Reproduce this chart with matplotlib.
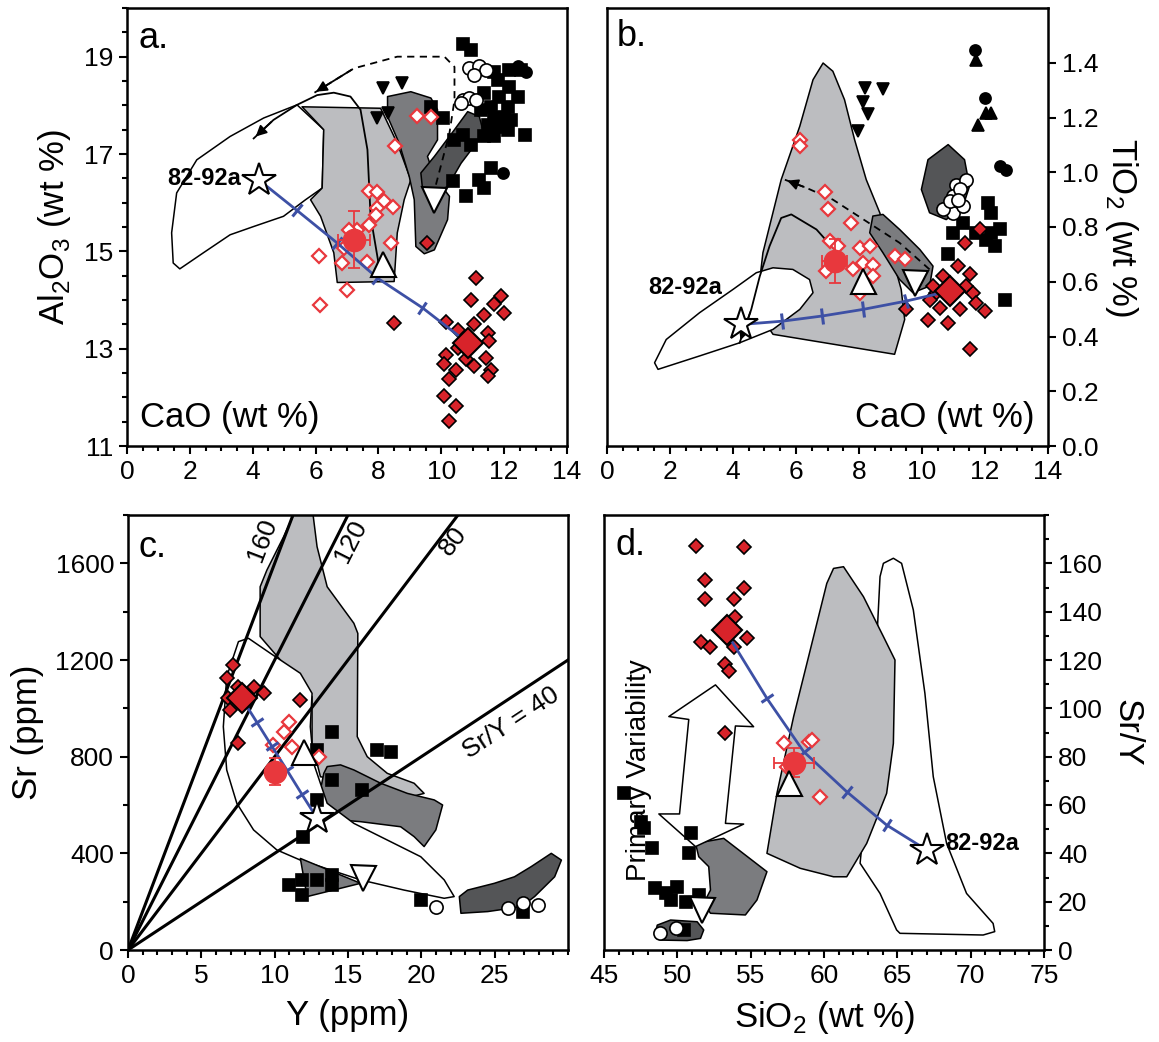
import numpy as np
import matplotlib
matplotlib.use('Agg')
import matplotlib.pyplot as plt
from matplotlib.patches import Polygon
from matplotlib.markers import MarkerStyle
from matplotlib.transforms import Affine2D
from matplotlib.ticker import MultipleLocator, FormatStrFormatter

plt.rcParams['font.family'] = ['Liberation Sans', 'DejaVu Sans']
plt.rcParams['mathtext.fontset'] = 'custom'
plt.rcParams['mathtext.rm'] = 'Liberation Sans'

LG = '#bcbdc0'
MG = '#7b7c7f'
DG = '#545557'
RED = '#e8383d'
RED_F = '#d8232a'
BLUE = '#3d50a5'

# ---------------- panel a : CaO vs Al2O3 ----------------
a_white = [(5.41, 18.01), (6.26, 17.50), (6.21, 16.30), (5.68, 16.06), (4.98, 15.72), (4.03, 15.51),
           (3.28, 15.34), (2.43, 14.97), (1.68, 14.64), (1.47, 14.76), (1.42, 15.38), (1.58, 16.20),
           (2.22, 16.88), (3.28, 17.36), (4.35, 17.74)]
a_lgray = [(5.57, 17.97), (8.07, 17.94), (8.60, 17.22), (9.03, 16.47), (8.82, 16.06), (8.60, 15.38),
           (8.50, 14.38), (6.69, 14.36), (6.58, 14.97), (6.16, 15.72), (5.84, 16.06), (6.21, 16.30),
           (6.26, 17.50)]
a_mgray = [(8.29, 18.18), (9.03, 18.28), (9.67, 18.15), (9.88, 17.91), (9.88, 17.29), (9.56, 16.95),
           (9.78, 16.54), (10.26, 16.13), (10.20, 15.65), (9.78, 15.03), (9.46, 14.95), (9.19, 15.10),
           (9.14, 16.06), (8.98, 16.54), (8.66, 17.22), (8.29, 17.77)]
a_dgray = [(10.84, 17.87), (11.21, 17.77), (11.32, 17.50), (11.11, 17.22), (10.63, 16.81), (10.20, 16.33),
           (9.83, 16.23), (9.40, 16.30), (9.35, 16.61), (9.78, 16.95), (10.42, 17.50)]
a_dash = [(9.83, 16.37), (10.26, 17.43), (10.42, 18.11), (10.42, 18.79), (10.10, 19.0), (8.60, 19.0),
          (7.22, 18.76), (5.94, 18.25)]
a_solid = [(8.02, 14.69), (7.75, 15.72), (7.65, 17.09), (7.43, 17.91), (7.11, 18.18), (6.58, 18.26),
           (6.05, 18.21), (5.41, 18.01), (4.66, 17.70), (4.03, 17.32)]

a_sq_x = [10.68, 10.95, 11.69, 12.17, 12.55, 11.80, 12.17, 12.44, 11.37, 11.85, 11.27, 11.59, 12.12, 11.69,
          12.01, 12.23, 11.48, 11.85, 12.12, 12.65, 11.37, 11.69, 10.42, 10.68, 10.95, 10.04, 9.67, 11.59,
          11.21, 11.37, 10.36, 10.79]
a_sq_y = [19.27, 19.14, 18.69, 18.73, 18.73, 18.52, 18.38, 18.18, 18.25, 18.18, 17.91, 17.97, 17.97, 17.74,
          17.77, 17.70, 17.60, 17.56, 17.50, 17.39, 17.36, 17.36, 17.29, 17.39, 17.19, 17.74, 17.97, 16.71,
          16.47, 16.30, 16.44, 16.13]
a_bc_x = [12.44, 12.70, 11.96]
a_bc_y = [18.80, 18.69, 16.61]
a_oc_x = [10.89, 11.21, 11.43, 11.05, 10.68, 10.89, 11.11, 10.63]
a_oc_y = [18.76, 18.80, 18.73, 18.62, 18.11, 18.15, 18.11, 18.04]
a_tri_x = [8.13, 8.76, 7.97, 8.29]
a_tri_y = [18.35, 18.45, 17.73, 17.84]
a_open_x = [9.22, 9.67, 8.52, 7.70, 7.97, 8.18, 8.45, 7.97, 7.91, 7.70, 7.33, 7.06, 6.90, 8.39, 6.10, 6.85,
            7.65, 7.01, 6.13]
a_open_y = [17.78, 17.76, 17.17, 16.25, 16.21, 16.03, 15.91, 15.89, 15.75, 15.55, 15.44, 15.44, 15.07, 15.17,
            14.90, 14.76, 14.79, 14.20, 13.89]
a_fill_x = [9.54, 8.50, 11.11, 10.93, 11.91, 10.15, 10.52, 11.37, 11.69, 12.01, 11.05, 11.48, 11.53, 10.52,
            10.15, 10.79, 11.43, 10.10, 10.47, 11.05, 11.59, 10.26, 11.48, 10.10, 10.47, 10.26]
a_fill_y = [15.18, 13.53, 14.45, 14.01, 14.08, 13.54, 13.39, 13.70, 13.91, 13.74, 13.50, 13.32, 13.15, 13.02,
            12.88, 12.78, 12.81, 12.68, 12.57, 12.64, 12.57, 12.37, 12.44, 12.03, 11.82, 11.51]
a_big = (10.84, 13.12)
a_circ = (7.22, 15.24)
a_circ_err = (0.5, 0.58)
a_up = (8.13, 14.73)
a_dn = (9.78, 16.06)
a_star = (4.19, 16.47)
a_mix_x = [4.19, 5.41, 6.69, 7.97, 9.40, 10.84]
a_mix_y = [16.47, 15.84, 15.17, 14.45, 13.84, 13.12]
a_yticks = [11, 13, 15, 17, 19]

# ---------------- panel b : CaO vs TiO2 ----------------
b_white = [(1.62, 0.280), (2.94, 0.329), (4.21, 0.377), (5.27, 0.426), (6.12, 0.499), (6.54, 0.560),
           (6.43, 0.608), (5.90, 0.645), (5.27, 0.651), (4.74, 0.633), (4.00, 0.572), (2.94, 0.487),
           (1.88, 0.389), (1.51, 0.304)]
b_lgray = [(6.86, 1.399), (7.17, 1.369), (7.54, 1.265), (7.86, 1.119), (8.23, 0.973), (8.66, 0.852),
           (9.34, 0.572), (9.45, 0.462), (9.13, 0.335), (5.27, 0.408), (4.74, 0.499), (4.95, 0.706),
           (5.53, 0.973), (6.12, 1.168), (6.54, 1.338)]
b_mgray = [(8.44, 0.840), (8.76, 0.846), (9.29, 0.791), (9.93, 0.718), (10.35, 0.657), (10.24, 0.584),
           (9.71, 0.560), (9.29, 0.608), (8.76, 0.706), (8.34, 0.779)]
b_dgray = [(10.83, 1.101), (11.35, 1.046), (11.51, 0.949), (11.30, 0.876), (10.77, 0.827), (10.24, 0.852),
           (9.98, 0.937), (10.19, 1.046)]
b_dash = [(10.24, 0.645), (9.29, 0.742), (8.23, 0.821), (7.17, 0.900), (6.33, 0.943), (5.64, 0.973)]
b_solid = [(7.17, 0.724), (6.65, 0.791), (5.85, 0.846), (5.53, 0.833), (5.16, 0.730), (4.85, 0.620),
           (4.58, 0.499), (4.21, 0.377)]

b_sq_x = [12.10, 12.20, 12.47, 10.98, 11.30, 11.72, 12.04, 12.31, 12.20, 10.83, 12.62]
b_sq_y = [0.888, 0.852, 0.791, 0.779, 0.815, 0.779, 0.754, 0.730, 0.779, 0.700, 0.535]
b_bc_x = [11.67, 11.99, 12.47, 12.68]
b_bc_y = [1.448, 1.271, 1.022, 1.010]
b_ut_x = [11.70, 12.04, 12.20, 11.78]
b_ut_y = [1.411, 1.217, 1.217, 1.174]
b_dt_x = [8.18, 8.76, 8.13, 8.29, 7.97]
b_dt_y = [1.308, 1.304, 1.258, 1.211, 1.150]
b_oc_x = [11.09, 11.41, 10.98, 11.20, 10.77, 10.98, 10.67, 11.30, 10.88, 11.14]
b_oc_y = [0.955, 0.973, 0.913, 0.937, 0.870, 0.852, 0.864, 0.876, 0.894, 0.900]
b_open_x = [6.12, 6.12, 6.91, 7.02, 7.76, 7.07, 7.33, 8.02, 8.34, 6.96, 7.81, 8.13, 8.44, 8.44, 8.02, 9.13, 9.45]
b_open_y = [1.119, 1.095, 0.927, 0.864, 0.815, 0.748, 0.730, 0.724, 0.730, 0.639, 0.645, 0.669, 0.663, 0.621,
            0.560, 0.694, 0.684]
b_fill_x = [11.83, 11.35, 11.14, 11.51, 10.67, 10.46, 10.24, 11.62, 11.72, 11.99, 11.20, 10.56, 10.19, 10.83,
            9.50, 11.51, 10.35, 11.41]
b_fill_y = [0.791, 0.742, 0.657, 0.627, 0.621, 0.560, 0.535, 0.560, 0.523, 0.493, 0.499, 0.505, 0.462, 0.450,
            0.499, 0.353, 0.584, 0.584]
b_big = (10.88, 0.566)
b_circ = (7.23, 0.675)
b_circ_err = (0.4, 0.08)
b_up = (8.13, 0.602)
b_dn = (9.77, 0.596)
b_star = (4.26, 0.444)
b_mix_x = [4.26, 5.57, 6.84, 8.13, 9.48, 10.88]
b_mix_y = [0.444, 0.456, 0.475, 0.499, 0.529, 0.566]
b_yticks = [0.0, 0.2, 0.4, 0.6, 0.8, 1.0, 1.2, 1.4]

# ---------------- panel c : Y vs Sr ----------------
c_ratios = [160, 120, 80, 40]
c_ratio_labels = ['160', '120', '80', 'Sr/Y = 40']
c_label_pos = [(9.13, 1696), (15.2, 1690), (22.2, 1690), (26.1, 938)]
c_lgray = [(11.29, 1800), (12.62, 1800), (12.89, 1669), (13.58, 1503), (15.40, 1352), (15.67, 1310),
           (15.63, 883), (16.31, 800), (17.68, 731), (19.51, 690), (20.19, 648), (19.28, 634), (16.77, 676),
           (13.12, 717), (12.55, 855), (12.55, 1048), (9.01, 1297), (9.01, 1503), (9.47, 1572), (10.61, 1710)]
c_mgray = [(13.58, 759), (14.49, 766), (15.40, 745), (17.23, 690), (19.05, 648), (20.88, 621), (21.45, 600),
           (20.99, 497), (20.19, 428), (19.51, 469), (18.59, 510), (15.86, 531), (14.49, 538), (13.58, 593),
           (13.12, 662), (13.35, 731)]
c_white = [(7.53, 1276), (8.21, 1290), (9.70, 1228), (11.75, 1145), (12.55, 1062), (12.43, 924), (12.66, 772),
           (13.58, 607), (15.40, 524), (17.68, 455), (19.96, 386), (21.56, 290), (22.24, 221), (21.56, 214),
           (18.82, 248), (15.86, 290), (13.12, 345), (11.75, 372), (10.15, 414), (8.56, 497), (7.42, 607),
           (6.73, 745), (6.50, 924), (6.73, 1131)]
c_mgray2 = [(11.75, 379), (15.86, 276), (12.21, 221)]
c_dgray = [(22.59, 221), (23.16, 248), (24.98, 276), (26.35, 303), (27.49, 345), (28.86, 400), (29.55, 372),
           (29.09, 303), (27.72, 221), (26.81, 179), (24.53, 159), (22.70, 152)]
c_sq_x = [13.92, 16.95, 17.96, 12.89, 13.92, 15.97, 12.89, 11.93, 10.95, 11.86, 11.86, 12.89, 13.92, 13.92,
          19.96, 26.92]
c_sq_y = [903, 828, 821, 828, 703, 662, 621, 469, 269, 290, 228, 290, 310, 269, 207, 159]
c_oc_x = [20.99, 25.90, 26.92, 27.95]
c_oc_y = [179, 172, 193, 186]
c_open_x = [10.95, 10.61, 9.92, 11.18, 13.0]
c_open_y = [945, 903, 848, 838, 800]
c_fill_x = [7.19, 6.73, 7.53, 8.56, 9.24, 6.84, 6.96, 11.75, 7.53]
c_fill_y = [1179, 1124, 1090, 1090, 1062, 1041, 993, 1034, 855]
c_big = (7.76, 1041)
c_circ = (10.04, 738)
c_circ_err = (0.3, 55)
c_up = (11.98, 821)
c_dn = (16.04, 297)
c_star = (12.89, 545)
c_mix_x = [7.76, 8.79, 9.81, 10.84, 11.86, 12.89]
c_mix_y = [1041, 942, 843, 744, 644, 545]

# ---------------- panel d : SiO2 vs Sr/Y ----------------
d_white = [(64.05, 160.0), (64.73, 162.1), (65.29, 160.0), (66.09, 140.7), (66.88, 106.2), (67.45, 71.7),
           (68.36, 44.1), (69.72, 23.4), (71.53, 11.0), (71.64, 7.6), (70.85, 6.2), (65.18, 6.9), (64.95, 8.3),
           (63.82, 23.4), (62.46, 35.9), (62.69, 49.7), (63.37, 85.5), (63.59, 126.9), (63.82, 154.5)]
d_lgray = [(56.11, 40.0), (56.79, 64.8), (57.93, 96.6), (59.06, 124.1), (60.19, 151.7), (60.65, 157.9),
           (61.33, 158.6), (62.69, 146.2), (64.05, 129.7), (64.84, 120.0), (64.73, 85.5), (64.27, 64.8),
           (62.91, 44.1), (61.55, 30.3), (60.65, 30.3), (58.38, 33.8)]
d_mgray = [(51.24, 44.1), (53.16, 46.2), (56.11, 32.4), (55.43, 20.7), (54.64, 14.5), (52.26, 15.2),
           (51.80, 19.3), (52.26, 24.8), (52.14, 34.5), (51.46, 38.6)]
d_dgray = [(48.63, 10.3), (49.54, 12.4), (51.35, 11.7), (51.80, 8.3), (51.58, 4.8), (50.67, 3.9),
           (48.85, 4.1), (48.51, 6.9)]
d_arrow = [(52.60, 109.7), (55.20, 92.4), (53.96, 92.7), (53.28, 52.4), (54.52, 52.1), (51.24, 42.8),
           (48.74, 56.3), (50.15, 56.3), (50.78, 95.4), (49.42, 96.6)]
d_sq_x = [46.36, 47.72, 47.49, 48.29, 50.90, 50.78, 48.51, 49.20, 49.99, 49.54, 50.56, 51.46, 50.44]
d_sq_y = [64.8, 50.3, 53.1, 42.1, 48.6, 40.0, 25.5, 23.4, 26.2, 20.7, 20.0, 22.8, 8.3]
d_oc_x = [48.85, 49.88]
d_oc_y = [6.9, 9.0]
d_open_x = [57.24, 58.95, 59.17, 59.74, 57.47]
d_open_y = [85.5, 86.2, 86.9, 63.4, 75.9]
d_fill_x = [51.30, 54.52, 51.92, 54.52, 51.92, 53.84, 53.96, 51.58, 52.26, 54.75, 53.84, 53.28, 53.50, 53.28]
d_fill_y = [167.3, 166.6, 153.1, 149.7, 145.1, 145.1, 137.9, 127.6, 125.5, 129.0, 125.5, 118.3, 115.6, 89.9]
d_big = (53.39, 132.4)
d_circ = (57.93, 77.5)
d_circ_err = (1.36, 6)
d_up = (57.59, 69.0)
d_dn = (51.69, 16.6)
d_star = (67.0, 41.4)
d_mix_x = [53.73, 56.11, 58.61, 61.55, 64.27, 67.0]
d_mix_y = [127.6, 104.1, 82.1, 65.5, 51.7, 41.4]


def shape(ax, pts, fc, z=1):
    ax.add_patch(Polygon(pts, closed=True, fc=fc, ec='black', lw=1.1, zorder=z, joinstyle='round'))


def arrow_path(ax, pts, ls):
    xs = [p[0] for p in pts]
    ys = [p[1] for p in pts]
    ax.plot(xs, ys, color='black', lw=1.3, ls=ls, zorder=3)
    ax.annotate('', xy=pts[-1], xytext=pts[-2],
                arrowprops=dict(arrowstyle='-|>', color='black', lw=1.3, mutation_scale=16), zorder=3)


def pts(ax, x, y, m, ms, fc, ec='black', mew=1.2, z=4):
    ax.plot(x, y, ls='none', marker=m, ms=ms, mfc=fc, mec=ec, mew=mew, zorder=z)


def mix(ax, xs, ys):
    ax.plot(xs, ys, color=BLUE, lw=2, zorder=5)
    xy = ax.transData.transform(np.column_stack([xs, ys]))
    for i in range(1, len(xs) - 1):
        d = xy[i + 1] - xy[i - 1]
        ang = np.degrees(np.arctan2(d[1], d[0]))
        m = MarkerStyle('|', transform=Affine2D().rotate_deg(ang))
        ax.plot(xs[i], ys[i], marker=m, ms=11, mew=2.2, color=BLUE, zorder=5)


def common(ax, circ, err, big, up, dn, star):
    pts(ax, [big[0]], [big[1]], 'D', 15, RED_F, mew=1.5, z=7)
    ax.errorbar(circ[0], circ[1], xerr=err[0], yerr=err[1], fmt='o', ms=16, color=RED, ecolor=RED,
                elinewidth=1.3, capsize=4, capthick=1.3, zorder=6)
    pts(ax, [up[0]], [up[1]], '^', 18, 'white', mew=1.5, z=7)
    pts(ax, [dn[0]], [dn[1]], 'v', 18, 'white', mew=1.5, z=7)
    pts(ax, [star[0]], [star[1]], '*', 25, 'white', mew=1.5, z=7)


def style(ax, right=False):
    for s in ax.spines.values():
        s.set_linewidth(1.8)
    ax.tick_params(which='both', direction='out', width=1.5, labelsize=19, pad=4)
    ax.tick_params(which='major', length=6)
    ax.tick_params(which='minor', length=3.5)
    if right:
        ax.yaxis.tick_right()
        ax.yaxis.set_label_position('right')
    ax.tick_params(which='both', top=False)


W, H = 1159, 1042
fig = plt.figure(figsize=(W / 100, H / 100), dpi=100)
ax_a = fig.add_axes([127 / W, 1 - 446 / H, 440 / W, 438 / H])
ax_b = fig.add_axes([607 / W, 1 - 446 / H, 441 / W, 438 / H])
ax_c = fig.add_axes([128 / W, 1 - 950 / H, 440 / W, 435 / H])
ax_d = fig.add_axes([604 / W, 1 - 950 / H, 440 / W, 435 / H])

SQ, OC, OD, FD = 8.7, 9.5, 7, 7.5

# panel a
ax = ax_a
ax.set_xlim(0, 14)
ax.set_ylim(11, 20)
style(ax)
ax.xaxis.set_major_locator(MultipleLocator(2))
ax.xaxis.set_minor_locator(MultipleLocator(0.5))
ax.set_yticks(a_yticks)
ax.yaxis.set_minor_locator(MultipleLocator(0.5))
shape(ax, a_white, 'white')
shape(ax, a_lgray, LG)
shape(ax, a_mgray, MG)
shape(ax, a_dgray, DG)
arrow_path(ax, a_dash, (0, (4, 3)))
arrow_path(ax, a_solid, '-')
pts(ax, a_sq_x, a_sq_y, 's', SQ, 'black')
pts(ax, a_bc_x, a_bc_y, 'o', 8, 'black')
pts(ax, a_oc_x, a_oc_y, 'o', OC, 'white')
pts(ax, a_tri_x, a_tri_y, 'v', 9, 'black')
pts(ax, a_open_x, a_open_y, 'D', OD, 'white', RED, 1.6)
pts(ax, a_fill_x, a_fill_y, 'D', FD, RED_F)
mix(ax, a_mix_x, a_mix_y)
common(ax, a_circ, a_circ_err, a_big, a_up, a_dn, a_star)
ax.text(3.62, 16.5, '82-92a', fontsize=17, fontweight='bold', ha='right', va='center', zorder=8)
ax.text(0.06, 0.93, 'a.', transform=ax.transAxes, fontsize=26, ha='center', va='center')
ax.text(0.03, 0.065, 'CaO (wt %)', transform=ax.transAxes, fontsize=25, ha='left', va='center')
ax.set_ylabel(r'Al$_\mathregular{2}$O$_\mathregular{3}$ (wt %)', fontsize=25, labelpad=8)

# panel b
ax = ax_b
ax.set_xlim(0, 14)
ax.set_ylim(0, 1.6)
style(ax, right=True)
ax.xaxis.set_major_locator(MultipleLocator(2))
ax.xaxis.set_minor_locator(MultipleLocator(0.5))
ax.set_yticks(b_yticks)
ax.yaxis.set_major_formatter(FormatStrFormatter('%.1f'))
shape(ax, b_lgray, LG)
shape(ax, b_white, 'white')
shape(ax, b_mgray, MG)
shape(ax, b_dgray, DG)
arrow_path(ax, b_dash, (0, (4, 3)))
arrow_path(ax, b_solid, '-')
pts(ax, b_sq_x, b_sq_y, 's', SQ, 'black')
pts(ax, b_bc_x, b_bc_y, 'o', 8, 'black')
pts(ax, b_ut_x, b_ut_y, '^', 9, 'black')
pts(ax, b_dt_x, b_dt_y, 'v', 9, 'black')
pts(ax, b_oc_x, b_oc_y, 'o', OC, 'white')
pts(ax, b_open_x, b_open_y, 'D', OD, 'white', RED, 1.6)
pts(ax, b_fill_x, b_fill_y, 'D', FD, RED_F)
mix(ax, b_mix_x, b_mix_y)
common(ax, b_circ, b_circ_err, b_big, b_up, b_dn, b_star)
ax.text(2.47, 0.578, '82-92a', fontsize=17, fontweight='bold', ha='center', va='center', zorder=8)
ax.text(0.055, 0.935, 'b.', transform=ax.transAxes, fontsize=26, ha='center', va='center')
ax.text(0.97, 0.065, 'CaO (wt %)', transform=ax.transAxes, fontsize=25, ha='right', va='center')
ax.set_ylabel(r'TiO$_\mathregular{2}$ (wt %)', fontsize=25, rotation=270, labelpad=30)

# panel c
ax = ax_c
ax.set_xlim(0, 30)
ax.set_ylim(0, 1800)
style(ax)
ax.set_xticks([0, 5, 10, 15, 20, 25])
ax.xaxis.set_minor_locator(MultipleLocator(1))
ax.set_yticks([0, 400, 800, 1200, 1600])
ax.yaxis.set_minor_locator(MultipleLocator(200))
shape(ax, c_lgray, LG)
shape(ax, c_mgray, MG)
shape(ax, c_white, 'white')
shape(ax, c_mgray2, MG)
shape(ax, c_dgray, DG)
for r, lab, p in zip(c_ratios, c_ratio_labels, c_label_pos):
    ax.axline((0, 0), slope=r, color='black', lw=2.2, zorder=3)
    ax.text(p[0], p[1], lab, fontsize=19, rotation=np.degrees(np.arctan(r)), transform_rotates_text=True,
            rotation_mode='anchor', ha='center', va='center', zorder=3)
pts(ax, c_sq_x, c_sq_y, 's', SQ, 'black')
pts(ax, c_oc_x, c_oc_y, 'o', OC, 'white')
pts(ax, c_open_x, c_open_y, 'D', OD, 'white', RED, 1.6)
pts(ax, c_fill_x, c_fill_y, 'D', FD, RED_F)
mix(ax, c_mix_x, c_mix_y)
common(ax, c_circ, c_circ_err, c_big, c_up, c_dn, c_star)
ax.text(0.055, 0.925, 'c.', transform=ax.transAxes, fontsize=26, ha='center', va='center')
ax.set_xlabel('Y (ppm)', fontsize=25, labelpad=8)
ax.set_ylabel('Sr (ppm)', fontsize=25, labelpad=8)

# panel d
ax = ax_d
ax.set_xlim(45, 75)
ax.set_ylim(0, 180)
style(ax, right=True)
ax.xaxis.set_major_locator(MultipleLocator(5))
ax.xaxis.set_minor_locator(MultipleLocator(1))
ax.set_yticks(np.arange(0, 161, 20))
ax.yaxis.set_minor_locator(MultipleLocator(10))
shape(ax, d_white, 'white')
shape(ax, d_lgray, LG)
shape(ax, d_mgray, MG)
shape(ax, d_dgray, DG)
shape(ax, d_arrow, 'white', z=2)
ax.text(47.4, 74.5, 'Primary Variability', fontsize=20, rotation=90, ha='center', va='center', zorder=3)
pts(ax, d_sq_x, d_sq_y, 's', SQ, 'black')
pts(ax, d_oc_x, d_oc_y, 'o', OC, 'white')
pts(ax, d_open_x, d_open_y, 'D', OD, 'white', RED, 1.6)
pts(ax, d_fill_x, d_fill_y, 'D', FD, RED_F)
mix(ax, d_mix_x, d_mix_y)
common(ax, d_circ, d_circ_err, d_big, d_up, d_dn, d_star)
ax.text(68.3, 44.1, '82-92a', fontsize=17, fontweight='bold', ha='left', va='center', zorder=8)
ax.text(0.06, 0.93, 'd.', transform=ax.transAxes, fontsize=26, ha='center', va='center')
ax.set_xlabel(r'SiO$_\mathregular{2}$ (wt %)', fontsize=25, labelpad=8)
ax.set_ylabel('Sr/Y', fontsize=25, rotation=270, labelpad=30)

fig.savefig('out.png', dpi=100)
